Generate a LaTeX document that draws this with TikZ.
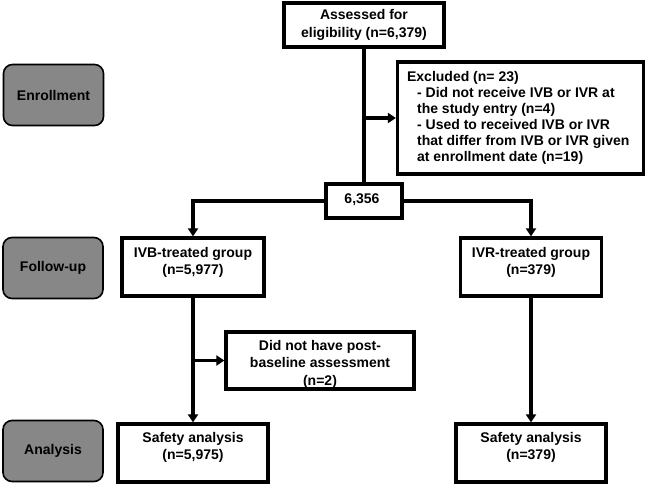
\documentclass[tikz,border=0pt]{standalone}
\usepackage{fontspec}
\setmainfont{Liberation Sans}
\usetikzlibrary{arrows.meta}
\tikzset{
  wbox/.style={draw=black, line width=3.2pt, fill=white, rectangle, inner sep=0pt},
  gbox/.style={draw=black, line width=1.6pt, fill=black!47, rounded corners=9pt, inner sep=0pt,
    minimum width=100pt, minimum height=61pt, font=\fontsize{14}{17}\selectfont\bfseries},
  txt/.style={align=center, inner sep=0pt, font=\fontsize{14}{17.5}\selectfont\bfseries},
  conn/.style={line width=3.2pt},
  arr/.style={line width=3.2pt, -{Triangle[width=10pt,length=8pt]}},
}
\begin{document}
\begin{tikzpicture}[x=1pt,y=-1pt]
\useasboundingbox[fill=white] (0,0) rectangle (646,485);

% stage labels
\node[gbox] (enr) at (53.5,95) {Enrollment};
\node[gbox] (fol) at (53,268) {Follow-up};
\node[gbox] (ana) at (53,451) {Analysis};

% boxes
\node[wbox, minimum width=160pt, minimum height=44pt] (top) at (364,25) {};
\node[txt] (toptxt) at (364,25) {Assessed for\\eligibility (n=6,379)};

\node[wbox, minimum width=246pt, minimum height=112pt] (excl) at (520.5,118) {};
\node[txt, anchor=west, align=left, font=\fontsize{14}{16.1}\selectfont\bfseries] (excltxt) at ([xshift=11pt]excl.west)
 {Excluded (n= 23)\\
  \hspace*{10pt}- Did not receive IVB or IVR at\\
  \hspace*{10pt}the study entry (n=4)\\
  \hspace*{10pt}- Used to received IVB or IVR\\
  \hspace*{10pt}that differ from IVB or IVR given\\
  \hspace*{10pt}at enrollment date (n=19)};

\node[wbox, minimum width=76pt, minimum height=34pt] (mid) at (364,201) {};
\node[txt] (midtxt) at (362,200) {6,356};

\node[wbox, minimum width=142pt, minimum height=58pt] (ivb) at (193,267) {};
\node[txt] (ivbtxt) at (193,262.5) {IVB-treated group\\(n=5,977)};

\node[wbox, minimum width=141pt, minimum height=58pt] (ivr) at (531,267) {};
\node[txt] (ivrtxt) at (531,262.5) {IVR-treated group\\(n=379)};

\node[wbox, minimum width=188pt, minimum height=57pt] (dnh) at (320,360.5) {};
\node[txt] (dnhtxt) at (320,364) {Did not have post-\\baseline assessment\\(n=2)};

\node[wbox, minimum width=150pt, minimum height=58pt] (safl) at (193,453) {};
\node[txt] (safltxt) at (193,447.5) {Safety analysis\\(n=5,975)};

\node[wbox, minimum width=150pt, minimum height=58pt] (safr) at (531,453) {};
\node[txt] (safrtxt) at (531,447.5) {Safety analysis\\(n=379)};

% connectors
\draw[conn] (top.south) -- (mid.north);
\draw[arr] (top.south |- excl.west) -- (excl.west);
\draw[arr] (mid.west) -| (ivb.north);
\draw[arr] (mid.east) -| (ivr.north);
\draw[arr] (ivb.south) -- (safl.north);
\draw[arr] (ivb.south |- dnh.west) -- (dnh.west);
\draw[arr] (ivr.south) -- (safr.north);
\end{tikzpicture}
\end{document}
